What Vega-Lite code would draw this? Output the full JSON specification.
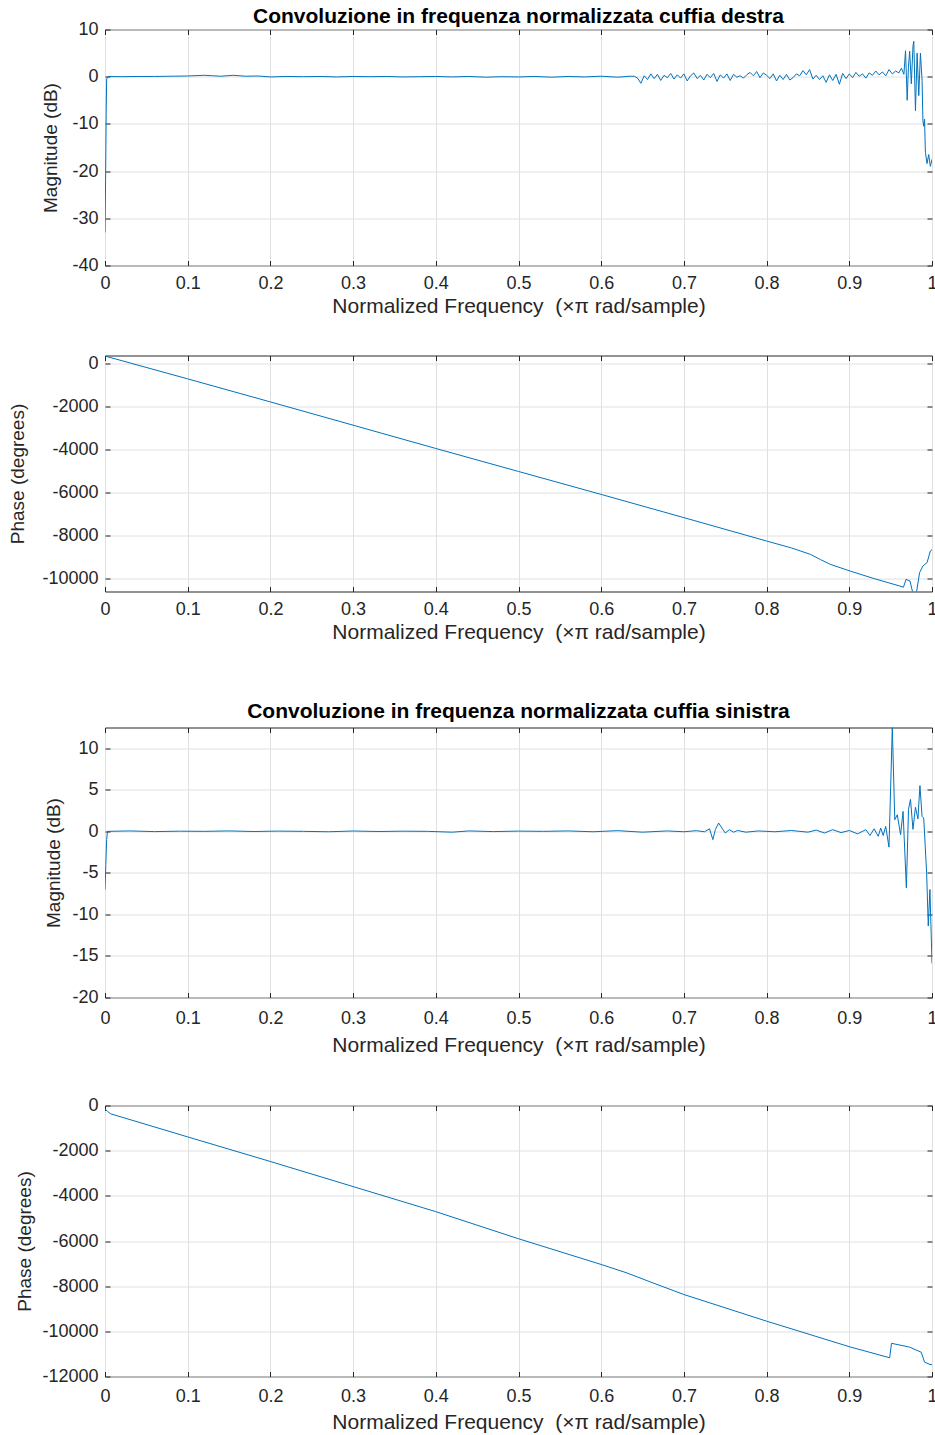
{
"$schema": "https://vega.github.io/schema/vega-lite/v6.json",
"background": "white",
"padding": {"left": 8, "top": 5.5, "right": 0, "bottom": 0},
"datasets": {
"rm": [
{"f":0,"v":-33},{"f":0.0007,"v":-22},{"f":0.0014,"v":-8},{"f":0.002,"v":-0.5},{"f":0.004,"v":0.05},{"f":0.02,"v":0},{"f":0.04,"v":0.05},{"f":0.06,"v":0.05},{"f":0.08,"v":0.1},{"f":0.1,"v":0.15},{"f":0.12,"v":0.3},{"f":0.13,"v":0.2},{"f":0.14,"v":0.1},{"f":0.155,"v":0.3},{"f":0.17,"v":0.1},{"f":0.185,"v":0.15},{"f":0.2,"v":-0.05},{"f":0.22,"v":0.05},{"f":0.24,"v":0},{"f":0.26,"v":0.05},{"f":0.28,"v":-0.05},{"f":0.3,"v":0.05},{"f":0.32,"v":0},{"f":0.34,"v":0.05},{"f":0.36,"v":-0.05},{"f":0.38,"v":0},{"f":0.4,"v":0.05},{"f":0.42,"v":-0.05},{"f":0.44,"v":0.05},{"f":0.46,"v":-0.1},{"f":0.48,"v":0},{"f":0.5,"v":-0.05},{"f":0.52,"v":0.05},{"f":0.54,"v":-0.1},{"f":0.56,"v":0.05},{"f":0.58,"v":-0.05},{"f":0.6,"v":0.1},{"f":0.62,"v":-0.1},{"f":0.635,"v":0.1},
{"f":0.64,"v":0.1},{"f":0.644,"v":-0.3},{"f":0.648,"v":-1.4},{"f":0.652,"v":0.2},{"f":0.656,"v":-0.6},{"f":0.66,"v":0.6},{"f":0.664,"v":-0.4},{"f":0.668,"v":0.5},{"f":0.672,"v":-0.8},{"f":0.676,"v":0.3},{"f":0.68,"v":-0.2},{"f":0.684,"v":0.7},{"f":0.688,"v":-0.5},{"f":0.692,"v":0.4},{"f":0.696,"v":-0.3},{"f":0.7,"v":0.6},{"f":0.704,"v":-0.9},{"f":0.708,"v":0.2},{"f":0.712,"v":0.8},{"f":0.716,"v":-0.4},{"f":0.72,"v":0.3},{"f":0.724,"v":-0.7},{"f":0.728,"v":0.5},{"f":0.732,"v":-0.2},{"f":0.736,"v":0.7},{"f":0.74,"v":-1.0},{"f":0.744,"v":0.4},{"f":0.748,"v":-0.3},{"f":0.752,"v":0.6},{"f":0.756,"v":-0.8},{"f":0.76,"v":0.5},{"f":0.764,"v":-0.1},{"f":0.768,"v":0.2},{"f":0.772,"v":-0.3},{"f":0.776,"v":0.4},{"f":0.78,"v":0.9},{"f":0.784,"v":0.2},{"f":0.788,"v":1.1},{"f":0.792,"v":-0.2},{"f":0.796,"v":0.8},{"f":0.8,"v":0.3},{"f":0.804,"v":-0.4},{"f":0.808,"v":0.6},{"f":0.812,"v":-0.9},{"f":0.816,"v":0.3},{"f":0.82,"v":-0.6},{"f":0.824,"v":0.5},{"f":0.828,"v":-0.7},{"f":0.832,"v":-0.2},{"f":0.836,"v":0.6},{"f":0.84,"v":0.2},{"f":0.844,"v":1.3},{"f":0.848,"v":0.4},{"f":0.852,"v":1.5},{"f":0.856,"v":-0.5},{"f":0.86,"v":0.3},{"f":0.864,"v":-0.6},{"f":0.868,"v":0.2},{"f":0.872,"v":-1.2},{"f":0.876,"v":0.4},{"f":0.88,"v":-0.8},{"f":0.884,"v":0.5},{"f":0.888,"v":-1.6},{"f":0.892,"v":0.7},{"f":0.896,"v":-0.4},{"f":0.9,"v":0.6},{"f":0.904,"v":-0.2},{"f":0.908,"v":0.9},{"f":0.912,"v":0.1},{"f":0.916,"v":0.6},{"f":0.92,"v":-0.3},{"f":0.924,"v":0.8},{"f":0.928,"v":0.3},{"f":0.932,"v":1.2},{"f":0.936,"v":0.4},{"f":0.94,"v":1.0},{"f":0.944,"v":0.2},{"f":0.948,"v":1.5},{"f":0.952,"v":0.6},{"f":0.956,"v":1.2},{"f":0.96,"v":0.8},
{"f":0.963,"v":1.8},{"f":0.966,"v":0.5},{"f":0.968,"v":5.5},{"f":0.97,"v":-5.0},{"f":0.9715,"v":2},{"f":0.973,"v":5.4},{"f":0.975,"v":-1.5},{"f":0.977,"v":6.5},{"f":0.978,"v":7.5},{"f":0.98,"v":-7.2},{"f":0.982,"v":5.0},{"f":0.984,"v":-4.0},{"f":0.986,"v":5.0},{"f":0.988,"v":-0.8},{"f":0.989,"v":-9.3},{"f":0.99,"v":-10.5},{"f":0.991,"v":-9},{"f":0.992,"v":-16.0},{"f":0.994,"v":-18.4},{"f":0.996,"v":-16.5},{"f":0.998,"v":-19.0},{"f":1.0,"v":-17.5}
],
"rp": [
{"f":0,"v":390},{"f":0.001,"v":354},{"f":0.1,"v":-698},{"f":0.2,"v":-1772},{"f":0.3,"v":-2855},{"f":0.4,"v":-3940},{"f":0.5,"v":-5010},{"f":0.6,"v":-6080},{"f":0.7,"v":-7160},{"f":0.8,"v":-8250},{"f":0.83,"v":-8570},{"f":0.853,"v":-8870},{"f":0.865,"v":-9110},{"f":0.877,"v":-9335},{"f":0.901,"v":-9647},{"f":0.93,"v":-10000},{"f":0.961,"v":-10344},{"f":0.9655,"v":-10400},{"f":0.9686,"v":-10033},{"f":0.9734,"v":-10112},{"f":0.977,"v":-10700},{"f":0.981,"v":-10700},{"f":0.985,"v":-9721},{"f":0.989,"v":-9414},{"f":0.994,"v":-9256},{"f":0.998,"v":-8716},{"f":1.0,"v":-8650}
],
"lm": [
{"f":0,"v":-7},{"f":0.001,"v":-4},{"f":0.002,"v":-1},{"f":0.003,"v":0},{"f":0.03,"v":0.05},{"f":0.06,"v":-0.03},{"f":0.09,"v":0.02},{"f":0.12,"v":0},{"f":0.15,"v":0.05},{"f":0.18,"v":-0.02},{"f":0.21,"v":0.03},{"f":0.24,"v":0},{"f":0.27,"v":-0.05},{"f":0.3,"v":0.04},{"f":0.33,"v":-0.02},{"f":0.36,"v":0.02},{"f":0.39,"v":0},{"f":0.42,"v":-0.1},{"f":0.44,"v":0.05},{"f":0.47,"v":-0.03},{"f":0.5,"v":0.03},{"f":0.53,"v":0},{"f":0.56,"v":0.05},{"f":0.59,"v":-0.05},{"f":0.62,"v":0.08},{"f":0.65,"v":-0.1},{"f":0.68,"v":0.05},{"f":0.7,"v":-0.05},{"f":0.715,"v":0.08},{"f":0.725,"v":-0.05},{"f":0.731,"v":0.3},{"f":0.735,"v":-1.0},{"f":0.738,"v":0.2},{"f":0.742,"v":1.0},{"f":0.746,"v":0.4},{"f":0.75,"v":-0.2},{"f":0.755,"v":0.2},{"f":0.76,"v":-0.1},{"f":0.765,"v":0.1},{"f":0.775,"v":-0.1},{"f":0.79,"v":0.05},{"f":0.81,"v":-0.05},{"f":0.83,"v":0.1},{"f":0.85,"v":-0.1},{"f":0.86,"v":0.15},{"f":0.87,"v":-0.2},{"f":0.88,"v":0.2},{"f":0.89,"v":-0.15},{"f":0.9,"v":0.1},{"f":0.91,"v":-0.3},{"f":0.92,"v":0.2},{"f":0.925,"v":-0.5},{"f":0.93,"v":0.3},{"f":0.935,"v":-0.6},{"f":0.938,"v":0.4},{"f":0.941,"v":-0.5},{"f":0.944,"v":0.6},{"f":0.948,"v":-1.9},{"f":0.952,"v":12.5},{"f":0.955,"v":1.4},{"f":0.958,"v":2.0},{"f":0.962,"v":-0.4},{"f":0.965,"v":2.4},{"f":0.969,"v":-6.8},{"f":0.9716,"v":2.65},{"f":0.974,"v":3.85},{"f":0.977,"v":0.24},{"f":0.98,"v":2.9},{"f":0.983,"v":1.5},{"f":0.9854,"v":5.5},{"f":0.988,"v":1.8},{"f":0.99,"v":1.6},{"f":0.9935,"v":-5.0},{"f":0.9955,"v":-11.4},{"f":0.9975,"v":-7.0},{"f":1.0,"v":-15.9}
],
"lp": [
{"f":0,"v":-150},{"f":0.003,"v":-260},{"f":0.007,"v":-370},{"f":0.1,"v":-1390},{"f":0.2,"v":-2480},{"f":0.3,"v":-3590},{"f":0.4,"v":-4700},{"f":0.5,"v":-5900},{"f":0.6,"v":-7040},{"f":0.63,"v":-7400},{"f":0.66,"v":-7820},{"f":0.7,"v":-8370},{"f":0.8,"v":-9550},{"f":0.9,"v":-10680},{"f":0.9488,"v":-11170},{"f":0.951,"v":-10530},{"f":0.973,"v":-10700},{"f":0.987,"v":-10925},{"f":0.991,"v":-11366},{"f":0.9976,"v":-11467},{"f":1.0,"v":-11480}
]
},
"spacing": 57,
"vconcat": [
{
"spacing": 37,
"vconcat": [
{
"width": 827, "height": 236,
"title": {"text": "Convoluzione in frequenza normalizzata cuffia destra", "frame": "group", "offset": -6.5},
"data": {"name": "rm"},
"layer": [
{"mark": {"type": "line", "color": "#0072BD", "strokeWidth": 1, "clip": true},
"encoding": {
"x": {"field": "f", "type": "quantitative", "scale": {"domain": [0, 1], "nice": false, "zero": false},
"axis": {"orient": "bottom", "title": "Normalized Frequency\u00a0\u00a0(×π rad/sample)", "values": [0,0.1,0.2,0.3,0.4,0.5,0.6,0.7,0.8,0.9,1], "labelExpr": "'' + datum.value", "titlePadding": 2.5, "labelPadding": 14, "titleFontSize": 21}},
"y": {"field": "v", "type": "quantitative", "scale": {"domain": [-40, 10], "nice": false, "zero": false},
"axis": {"orient": "left", "title": "Magnitude (dB)", "values": [-40,-30,-20,-10,0,10], "labelExpr": "'' + datum.value", "titlePadding": 11}}
}},
{"mark": {"type": "line", "opacity": 0},
"encoding": {
"x": {"field": "f", "type": "quantitative", "axis": {"orient": "top", "title": null, "labels": false, "grid": false, "values": [0,0.1,0.2,0.3,0.4,0.5,0.6,0.7,0.8,0.9,1]}},
"y": {"field": "v", "type": "quantitative", "axis": {"orient": "right", "title": null, "labels": false, "grid": false, "values": [-40,-30,-20,-10,0,10]}}
}}
],
"resolve": {"axis": {"x": "independent", "y": "independent"}}
},
{
"width": 827, "height": 236,
"data": {"name": "rp"},
"layer": [
{"mark": {"type": "line", "color": "#0072BD", "strokeWidth": 1, "clip": true},
"encoding": {
"x": {"field": "f", "type": "quantitative", "scale": {"domain": [0, 1], "nice": false, "zero": false},
"axis": {"orient": "bottom", "title": "Normalized Frequency\u00a0\u00a0(×π rad/sample)", "values": [0,0.1,0.2,0.3,0.4,0.5,0.6,0.7,0.8,0.9,1], "labelExpr": "'' + datum.value", "titlePadding": 2.5, "labelPadding": 14, "titleFontSize": 21}},
"y": {"field": "v", "type": "quantitative", "scale": {"domain": [-10600, 390], "nice": false, "zero": false},
"axis": {"orient": "left", "title": "Phase (degrees)", "values": [-10000,-8000,-6000,-4000,-2000,0], "labelExpr": "'' + datum.value", "titlePadding": 14}}
}},
{"mark": {"type": "line", "opacity": 0},
"encoding": {
"x": {"field": "f", "type": "quantitative", "axis": {"orient": "top", "title": null, "labels": false, "grid": false, "values": [0,0.1,0.2,0.3,0.4,0.5,0.6,0.7,0.8,0.9,1]}},
"y": {"field": "v", "type": "quantitative", "axis": {"orient": "right", "title": null, "labels": false, "grid": false, "values": [-10000,-8000,-6000,-4000,-2000,0]}}
}}
],
"resolve": {"axis": {"x": "independent", "y": "independent"}}
}
]
},
{
"spacing": 40,
"vconcat": [
{
"width": 827, "height": 270,
"title": {"text": "Convoluzione in frequenza normalizzata cuffia sinistra", "frame": "group", "offset": 5.5},
"data": {"name": "lm"},
"layer": [
{"mark": {"type": "line", "color": "#0072BD", "strokeWidth": 1, "clip": true},
"encoding": {
"x": {"field": "f", "type": "quantitative", "scale": {"domain": [0, 1], "nice": false, "zero": false},
"axis": {"orient": "bottom", "title": "Normalized Frequency\u00a0\u00a0(×π rad/sample)", "values": [0,0.1,0.2,0.3,0.4,0.5,0.6,0.7,0.8,0.9,1], "labelExpr": "'' + datum.value", "titlePadding": 6.5, "labelPadding": 17, "titleFontSize": 21}},
"y": {"field": "v", "type": "quantitative", "scale": {"domain": [-20, 12.5], "nice": false, "zero": false},
"axis": {"orient": "left", "title": "Magnitude (dB)", "values": [-20,-15,-10,-5,0,5,10], "labelExpr": "'' + datum.value", "titlePadding": 8}}
}},
{"mark": {"type": "line", "opacity": 0},
"encoding": {
"x": {"field": "f", "type": "quantitative", "axis": {"orient": "top", "title": null, "labels": false, "grid": false, "values": [0,0.1,0.2,0.3,0.4,0.5,0.6,0.7,0.8,0.9,1]}},
"y": {"field": "v", "type": "quantitative", "axis": {"orient": "right", "title": null, "labels": false, "grid": false, "values": [-20,-15,-10,-5,0,5,10]}}
}}
],
"resolve": {"axis": {"x": "independent", "y": "independent"}}
},
{
"width": 827, "height": 271,
"data": {"name": "lp"},
"layer": [
{"mark": {"type": "line", "color": "#0072BD", "strokeWidth": 1, "clip": true},
"encoding": {
"x": {"field": "f", "type": "quantitative", "scale": {"domain": [0, 1], "nice": false, "zero": false},
"axis": {"orient": "bottom", "title": "Normalized Frequency\u00a0\u00a0(×π rad/sample)", "values": [0,0.1,0.2,0.3,0.4,0.5,0.6,0.7,0.8,0.9,1], "labelExpr": "'' + datum.value", "titlePadding": 5.5, "labelPadding": 16, "titleFontSize": 21}},
"y": {"field": "v", "type": "quantitative", "scale": {"domain": [-12000, 0], "nice": false, "zero": false},
"axis": {"orient": "left", "title": "Phase (degrees)", "values": [-12000,-10000,-8000,-6000,-4000,-2000,0], "labelExpr": "'' + datum.value", "titlePadding": 7}}
}},
{"mark": {"type": "line", "opacity": 0},
"encoding": {
"x": {"field": "f", "type": "quantitative", "axis": {"orient": "top", "title": null, "labels": false, "grid": false, "values": [0,0.1,0.2,0.3,0.4,0.5,0.6,0.7,0.8,0.9,1]}},
"y": {"field": "v", "type": "quantitative", "axis": {"orient": "right", "title": null, "labels": false, "grid": false, "values": [-12000,-10000,-8000,-6000,-4000,-2000,0]}}
}}
],
"resolve": {"axis": {"x": "independent", "y": "independent"}}
}
]
}
],
"config": {
"font": "Liberation Sans",
"view": {"stroke": "#262626", "strokeWidth": 1},
"axis": {"labelFont": "Liberation Sans", "labelFontSize": 18, "labelColor": "#262626", "titleFont": "Liberation Sans", "titleFontSize": 19, "titleFontWeight": "normal", "titleColor": "#262626", "gridColor": "#e0e0e0", "gridOpacity": 1, "gridWidth": 1, "tickColor": "#262626", "tickSize": -5, "tickWidth": 1, "domain": false, "labelPadding": 12, "labelFlush": false, "labelOverlap": false},
"title": {"font": "Liberation Sans", "fontSize": 21, "fontWeight": "bold", "color": "#000000"}
}
}
